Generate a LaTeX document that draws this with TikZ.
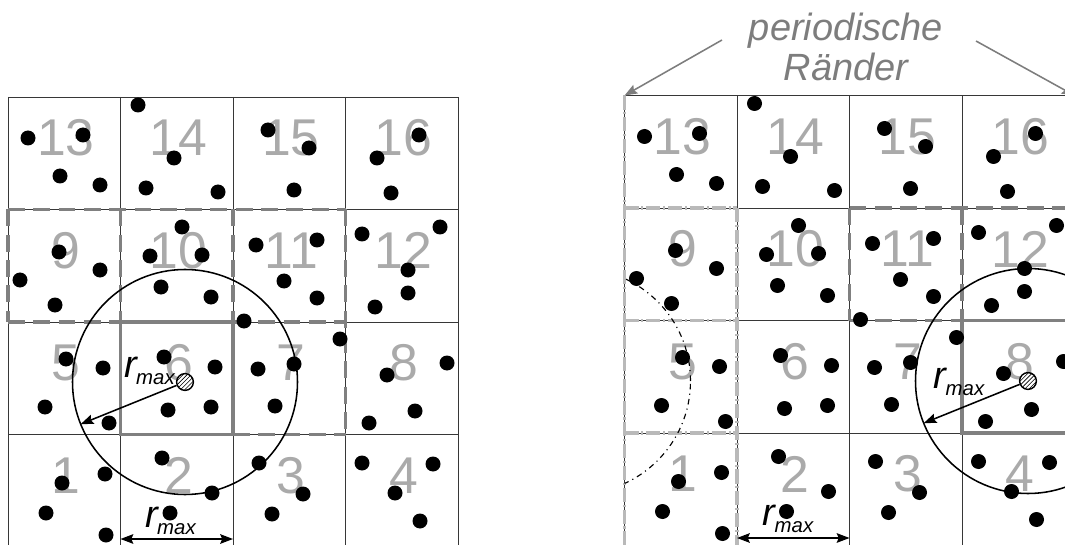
\documentclass[tikz,border=0pt]{standalone}
\usepackage{fontspec}
\setmainfont{Liberation Sans}
\usetikzlibrary{patterns,arrows.meta}

\definecolor{numgray}{RGB}{170,170,170}
\definecolor{boxgray}{RGB}{128,128,128}
\definecolor{imggray}{RGB}{185,185,185}
\definecolor{linegray}{RGB}{55,55,55}
\definecolor{notegray}{RGB}{125,125,125}

% r_max symbol: large italic r with a lowered "max"
\newcommand\rsym{{\fontsize{27}{27}\selectfont r}\kern-0.5pt\raisebox{-5pt}{\fontsize{14.5}{15}\selectfont max}}

% 4x4 cell grid with the cell numbers 1..16 (bottom row first)
\newcommand\cellgrid[1]{%
  \foreach \i in {0,...,4}{
    \draw[gridline] (8+112.5*\i,97) -- (8+112.5*\i,547);
    \draw[gridline] (8,97+112.5*\i) -- (458,97+112.5*\i);
  }
  \foreach \c in {0,...,3}{
    \foreach \r in {0,...,3}{
      \pgfmathtruncatemacro\cellno{13+\c-4*\r}
      \node[cellnum] (#1num\cellno) at (66+112.5*\c,138+112.5*\r) {\cellno};
    }
  }
}

% particle positions
\newcommand\particles{%
  \foreach \x/\y in {28/138, 83/135, 60/176, 100/185,
      138/105, 174/158, 146/188, 218/192,
      268/130, 309/148, 294/190,
      419/135, 377/158, 391/193,
      59/252, 100/270, 20/280, 55/305,
      182/227, 150/256, 202/255, 161/287, 211/297,
      256/245, 317/240, 284/281, 317/298, 244/321,
      362/234, 440/227, 408/270, 408/293, 375/307,
      66/359, 103/368, 45/407, 109/423,
      164/357, 215/367, 168/410, 211/407,
      340/339, 258/369, 294/364, 275/406,
      387/375, 447/363, 415/411, 369/423,
      62/483, 105/474, 46/513, 106/535,
      162/458, 212/493, 170/513,
      259/463, 303/494, 272/514,
      362/463, 433/464, 395/493, 420/521}
    \fill[particle] (\x,\y) circle[radius=1.875mm];
}

\begin{document}
\begin{tikzpicture}[x=0.25mm,y=-0.25mm,
  gridline/.style={draw=linegray,line width=0.7pt},
  cellnum/.style={text=numgray,font=\fontsize{36.8}{38}\selectfont,inner sep=0pt},
  particle/.style={fill=black},
  homebox/.style={draw=boxgray,line width=2.2pt},
  neighbox/.style={draw=boxgray,line width=2.2pt,dash pattern=on 12pt off 6pt},
  imagebox/.style={draw=imggray,line width=2.2pt,dash pattern=on 10pt off 2pt on 1.5pt off 2pt},
  cutoff/.style={draw=black,line width=1.1pt},
  imagecut/.style={draw=black,line width=0.8pt,dash pattern=on 4pt off 3pt on 0.8pt off 3pt},
  tagged/.style={circle,draw=black,line width=1pt,fill=white,minimum size=4.2mm,inner sep=0pt,postaction={pattern=north east lines}},
  radius arrow/.style={draw=black,line width=1.1pt,-{Stealth[length=3.2mm,width=2.4mm,inset=0.5mm]}},
  span arrow/.style={draw=black,line width=1.1pt,{Stealth[length=3.2mm,width=2.4mm,inset=0.5mm]}-{Stealth[length=3.2mm,width=2.4mm,inset=0.5mm]}},
  rlabel/.style={inner sep=0pt,anchor=base west,font=\itshape},
  note/.style={text=notegray,font=\itshape\fontsize{27}{28.4}\selectfont,align=center,inner sep=0pt},
  notearrow/.style={draw=notegray,line width=1.1pt,-{Stealth[length=3.2mm,width=2.4mm,inset=0.5mm]}},
]
\useasboundingbox (0,0) rectangle (1065,545);
\clip (0,0) rectangle (1065,545);

% ---------- left: cell 6 with its half-shell neighbours ----------
\begin{scope}
  \cellgrid{L}
  \draw[neighbox] (8,209.5) -- (345.5,209.5);
  \draw[neighbox] (8,209.5) -- (8,322);
  \draw[neighbox] (120.5,209.5) -- (120.5,322);
  \draw[neighbox] (233,209.5) -- (233,322);
  \draw[neighbox] (345.5,209.5) -- (345.5,434.5);
  \draw[neighbox] (8,322) -- (120.5,322);
  \draw[neighbox] (233,322) -- (345.5,322);
  \draw[neighbox] (233,434.5) -- (345.5,434.5);
  \draw[homebox] (120.5,322) rectangle (233,434.5);
  \draw[cutoff] (185,382) circle[radius=28.125mm];
  \particles
  \node[tagged] (tagL) at (185,382) {};
  \coordinate (rimL) at ([shift={(158:112.5)}]tagL.center);
  \draw[radius arrow] (tagL) -- (rimL);
  \node[rlabel] (rmidL) at (124,377) {\rsym};
  \coordinate (spanLa) at (120.5,539);
  \coordinate (spanLb) at (233,539);
  \draw[span arrow] (spanLa) -- (spanLb);
  \node[rlabel] (rbotL) at (145,527) {\rsym};
\end{scope}

% ---------- right: cell 8 with periodic images ----------
\begin{scope}[shift={(616.5,-1.5)}]
  \cellgrid{R}
  \draw[imagebox] (8,97) -- (8,547);
  \draw[imagebox] (8,209.5) -- (120.5,209.5);
  \draw[imagebox] (8,322) -- (120.5,322);
  \draw[imagebox] (8,434.5) -- (120.5,434.5);
  \draw[imagebox] (120.5,209.5) -- (120.5,547);
  \draw[neighbox] (233,209.5) -- (458,209.5);
  \draw[neighbox] (233,209.5) -- (233,322);
  \draw[neighbox] (345.5,209.5) -- (345.5,322);
  \draw[neighbox] (458,209.5) -- (458,322);
  \draw[neighbox] (233,322) -- (345.5,322);
  \draw[homebox] (345.5,322) rectangle (458,434.5);
  \draw[cutoff] (411.5,382.5) circle[radius=28.125mm];
  \begin{scope}
    \clip (8,90) rectangle (460,560);
    \draw[imagecut] (-38.5,382.5) circle[radius=28.125mm];
  \end{scope}
  \particles
  \node[tagged] (tagR) at (411.5,382.5) {};
  \coordinate (rimR) at ([shift={(158:112.5)}]tagR.center);
  \draw[radius arrow] (tagR) -- (rimR);
  \node[rlabel] (rmidR) at (317,389.5) {\rsym};
  \coordinate (spanRa) at (120.5,539.5);
  \coordinate (spanRb) at (233,539.5);
  \draw[span arrow] (spanRa) -- (spanRb);
  \node[rlabel] (rbotR) at (146,526.5) {\rsym};
  \coordinate (cornerL) at (8,97);
  \coordinate (cornerR) at (458,97);
\end{scope}

% ---------- periodic boundary note ----------
\node[note,anchor=north] (rand) at (846,13) {periodische\\Ränder};
\coordinate (randL) at (722,40);
\coordinate (randR) at (976,41);
\draw[notearrow] (randL) -- (cornerL);
\draw[notearrow] (randR) -- (cornerR);
\end{tikzpicture}
\end{document}
